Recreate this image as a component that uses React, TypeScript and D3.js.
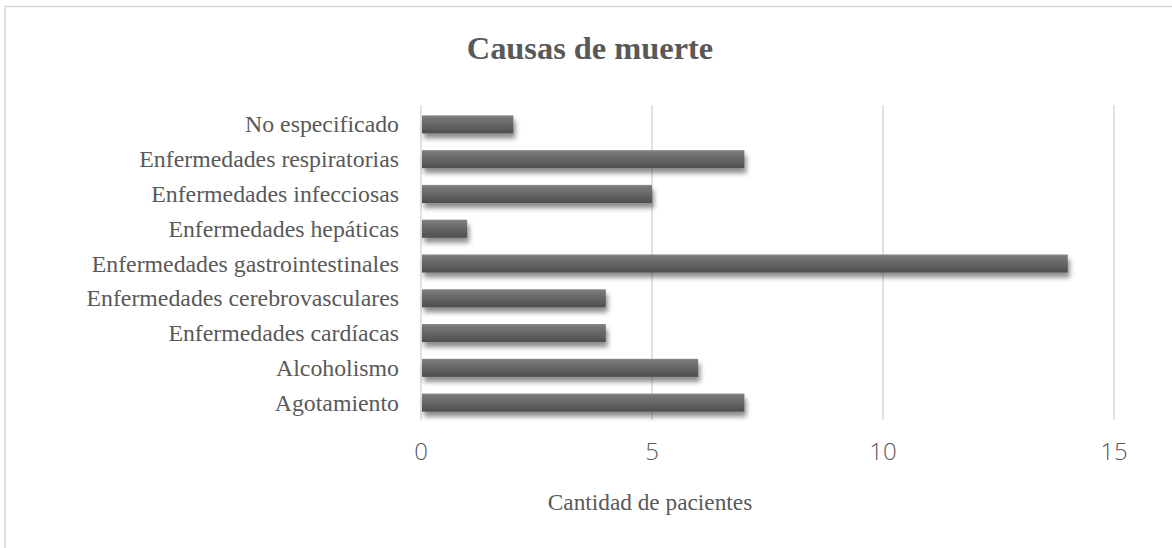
import React, { useEffect, useRef } from "react";
import * as d3 from "d3";

const categories = [
  "No especificado",
  "Enfermedades respiratorias",
  "Enfermedades infecciosas",
  "Enfermedades hepáticas",
  "Enfermedades gastrointestinales",
  "Enfermedades cerebrovasculares",
  "Enfermedades cardíacas",
  "Alcoholismo",
  "Agotamiento",
];
const values = [2, 7, 5, 1, 14, 4, 4, 6, 7];
const xTicks = [0, 5, 10, 15];
const title = "Causas de muerte";
const xTitle = "Cantidad de pacientes";

const W = 1172;
const H = 548;

export default function App() {
  const ref = useRef<SVGSVGElement>(null);
  useEffect(() => {
    const svg = d3.select(ref.current);
    svg.selectAll("*").remove();

    const defs = svg.append("defs");
    const grad = defs
      .append("linearGradient")
      .attr("id", "barGrad")
      .attr("x1", 0)
      .attr("y1", 0)
      .attr("x2", 0)
      .attr("y2", 1);
    grad.append("stop").attr("offset", "0%").attr("stop-color", "#8a8a8a");
    grad.append("stop").attr("offset", "12%").attr("stop-color", "#787878");
    grad.append("stop").attr("offset", "100%").attr("stop-color", "#4e4e4e");
    const f = defs
      .append("filter")
      .attr("id", "shadow")
      .attr("x", "-10%")
      .attr("y", "-50%")
      .attr("width", "130%")
      .attr("height", "250%");
    f.append("feDropShadow")
      .attr("dx", 2)
      .attr("dy", 5)
      .attr("stdDeviation", 2.8)
      .attr("flood-color", "#000")
      .attr("flood-opacity", 0.45);

    svg
      .append("rect")
      .attr("x", 5)
      .attr("y", 6.5)
      .attr("width", W + 10)
      .attr("height", H + 10)
      .attr("fill", "#fff")
      .attr("stroke", "#d9d9d9")
      .attr("stroke-width", 1.5);

    const x = d3.scaleLinear().domain([0, 15]).range([421, 1114]);
    const y = d3
      .scaleBand<string>()
      .domain(categories)
      .range([107, 420])
      .paddingInner(0.48)
      .paddingOuter(0.24);

    // gridlines
    svg
      .append("g")
      .selectAll("line")
      .data(xTicks)
      .join("line")
      .attr("x1", (d) => x(d))
      .attr("x2", (d) => x(d))
      .attr("y1", 105)
      .attr("y2", 420)
      .attr("stroke", "#d9d9d9")
      .attr("stroke-width", 1.5);

    // bars
    svg
      .append("g")
      .selectAll("rect")
      .data(values)
      .join("rect")
      .attr("x", x(0) + 1)
      .attr("y", (_, i) => y(categories[i])!)
      .attr("width", (d) => x(d) - x(0) - 1)
      .attr("height", y.bandwidth())
      .attr("fill", "url(#barGrad)")
      .attr("filter", "url(#shadow)");

    // category labels
    svg
      .append("g")
      .selectAll("text")
      .data(categories)
      .join("text")
      .attr("x", 399)
      .attr("y", (d) => y(d)! + y.bandwidth() / 2)
      .attr("dy", "0.34em")
      .attr("text-anchor", "end")
      .attr("font-family", "'Liberation Serif', 'Times New Roman', serif")
      .attr("font-size", 23.8)
      .attr("fill", "#595959")
      .text((d) => d);

    // tick labels
    svg
      .append("g")
      .selectAll("text")
      .data(xTicks)
      .join("text")
      .attr("x", (d) => x(d))
      .attr("y", 460)
      .attr("text-anchor", "middle")
      .attr("font-family", "'Open Sans', 'DejaVu Sans', sans-serif")
      .attr("font-weight", 300)
      .attr("font-size", 24)
      .attr("fill", "#595959")
      .text((d) => String(d));

    svg
      .append("text")
      .attr("x", 590)
      .attr("y", 59)
      .attr("text-anchor", "middle")
      .attr("font-family", "'Liberation Serif', 'Times New Roman', serif")
      .attr("font-weight", "bold")
      .attr("font-size", 32.4)
      .attr("fill", "#595959")
      .text(title);

    svg
      .append("text")
      .attr("x", 650)
      .attr("y", 510)
      .attr("text-anchor", "middle")
      .attr("font-family", "'Liberation Serif', 'Times New Roman', serif")
      .attr("font-size", 23.3)
      .attr("fill", "#595959")
      .text(xTitle);
  }, []);

  return (
    <div style={{ position: "absolute", left: 0, top: 0 }}>
      <svg ref={ref} width={W} height={H} style={{ display: "block" }} />
    </div>
  );
}
